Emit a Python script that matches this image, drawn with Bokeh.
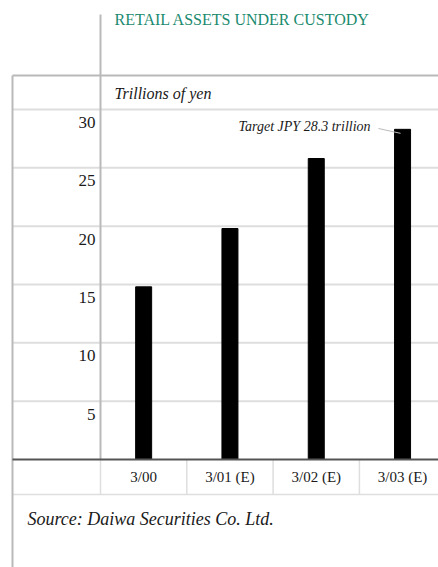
from bokeh.plotting import figure
from bokeh.models import Range1d
from bokeh.core.properties import value
from bokeh.embed import file_html
from bokeh.resources import INLINE

# ---- data ----
categories = ["3/00", "3/01 (E)", "3/02 (E)", "3/03 (E)"]
assets = [14.8, 19.8, 25.8, 28.3]
y_ticks = [5, 10, 15, 20, 25, 30]
y_tick_labels = ["5", "10", "15", "20", "25", "30"]
title_text = "RETAIL ASSETS UNDER CUSTODY"
unit_text = "Trillions of yen"
note_text = "Target JPY 28.3 trillion"
source_text = "Source: Daiwa Securities Co. Ltd."

# ---- layout (pixels) ----
W, H = 438, 567
COL_PX = 86.3          # width of one category column
LEFT_PX = 100          # left edge of first column
Y0_PX = 459            # pixel of value 0
Y30_PX = 109           # pixel of value 30
UNIT_Y = (Y0_PX - Y30_PX) / 30.0

X0 = -LEFT_PX / COL_PX
X1 = (W - LEFT_PX) / COL_PX
YT = Y0_PX / UNIT_Y
YB = -(H - Y0_PX) / UNIT_Y

def px(x):
    return X0 + x / COL_PX

def py(y):
    return YT - y / UNIT_Y

FONT = value("Liberation Serif")
xs = [i + 0.5 for i in range(len(categories))]

p = figure(width=W, height=H, x_range=Range1d(X0, X1), y_range=Range1d(YB, YT),
           x_axis_location=None, y_axis_location=None, toolbar_location=None,
           output_backend="svg", min_border=0, outline_line_color=None)
p.xgrid.visible = False
p.ygrid.visible = False
p.background_fill_color = "white"
p.border_fill_color = "white"

GRID = "#dedede"
FRAME = "#b9b9b9"

# gridlines (value ticks) across full width from left frame line
p.segment(x0=[px(12)] * len(y_ticks), x1=[px(W)] * len(y_ticks),
          y0=y_ticks, y1=y_ticks, line_color=GRID, line_width=2)

# bottom row: separators and bottom line
sep_x = [i for i in range(1, len(categories))]
p.segment(x0=sep_x, x1=sep_x, y0=[0] * len(sep_x), y1=[py(494)] * len(sep_x),
          line_color=GRID, line_width=1.5)
p.segment(x0=[0], x1=[0], y0=[0], y1=[py(494)], line_color=GRID, line_width=1.5)
p.segment(x0=[px(12)], x1=[px(W)], y0=[py(494)], y1=[py(494)], line_color=GRID, line_width=1.5)

# frame lines
p.segment(x0=[px(12)], x1=[px(W)], y0=[py(75)], y1=[py(75)], line_color=FRAME, line_width=2)
p.segment(x0=[px(12)], x1=[px(12)], y0=[py(75)], y1=[py(H)], line_color=FRAME, line_width=2)
p.segment(x0=[0], x1=[0], y0=[py(14)], y1=[0], line_color=FRAME, line_width=2)

# bars
p.vbar(x=xs, top=assets, bottom=0, width=16 / COL_PX, color="black")

# baseline
p.segment(x0=[px(12)], x1=[px(W)], y0=[0], y1=[0], line_color="#555555", line_width=2)

# tick labels (placed just below each gridline)
p.text(x=[px(95)] * len(y_ticks), y=y_ticks, text=y_tick_labels, y_offset=13,
       text_align="right", text_baseline="middle", text_font=FONT,
       text_font_size="17px", text_color="#1a1a1a")

# category labels
p.text(x=xs, y=[0] * len(xs), text=categories, y_offset=17,
       text_align="center", text_baseline="middle", text_font=FONT,
       text_font_size="15px", text_color="#1a1a1a")

# title
p.text(x=[px(114)], y=[py(19)], text=[title_text], text_align="left",
       text_baseline="middle", text_font=FONT, text_font_size="16px",
       text_color="#1a8a6e")

# unit label
p.text(x=[px(114)], y=[py(93)], text=[unit_text], text_align="left",
       text_baseline="middle", text_font=FONT, text_font_size="16px",
       text_font_style="italic", text_color="#1a1a1a")

# target note with leader line
p.text(x=[xs[-1]], y=[assets[-1]], text=[note_text], x_offset=-32, y_offset=-3,
       text_align="right", text_baseline="middle", text_font=FONT,
       text_font_size="14px", text_font_style="italic", text_color="#1a1a1a")
p.segment(x0=[px(378)], y0=[py(128)], x1=[xs[-1] - 2 / COL_PX], y1=[assets[-1] - 4 / UNIT_Y],
          line_color="#bbbbbb", line_width=1)

# source
p.text(x=[px(27)], y=[py(518)], text=[source_text], text_align="left",
       text_baseline="middle", text_font=FONT, text_font_size="18px",
       text_font_style="italic", text_color="#1a1a1a")

open("out.html", "w").write(file_html(p, INLINE))
